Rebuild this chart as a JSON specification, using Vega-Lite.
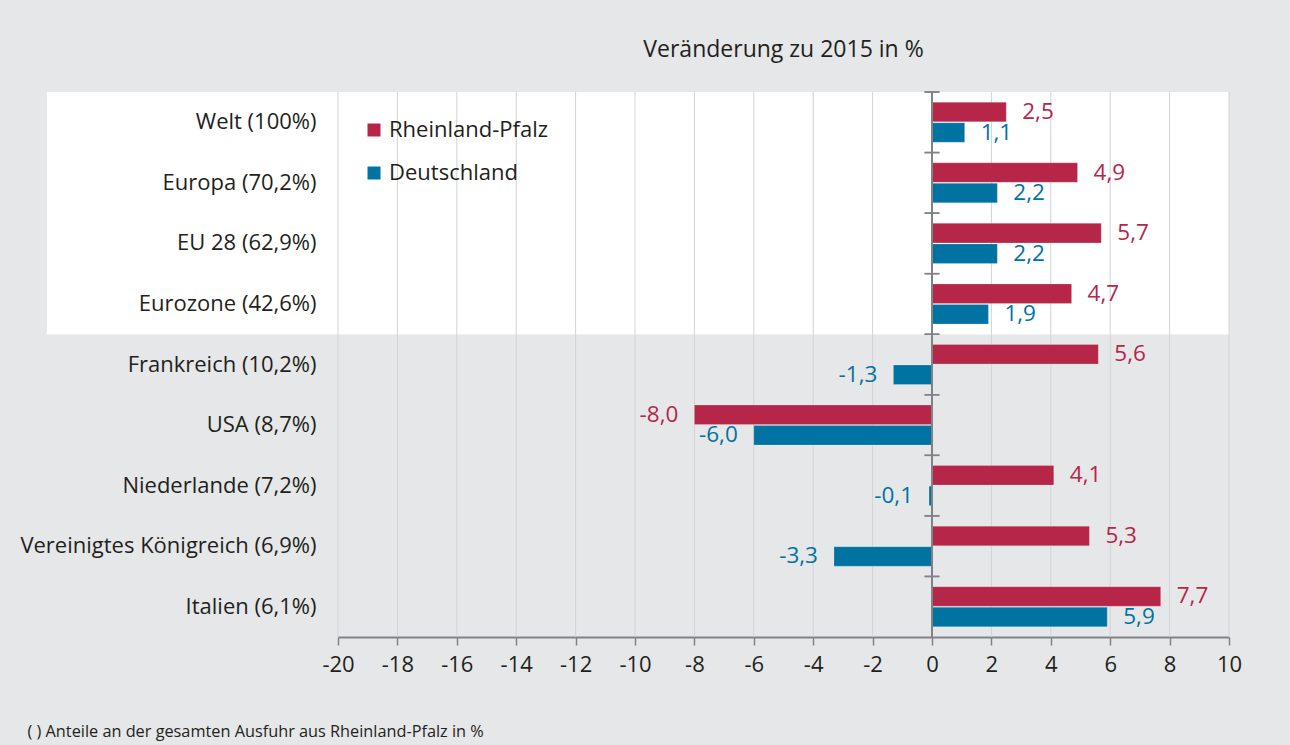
{
  "$schema": "https://vega.github.io/schema/vega-lite/v6.json",
  "width": 891,
  "height": 545,
  "autosize": {"type": "none"},
  "padding": {"left": 338, "top": 92, "right": 61, "bottom": 108},
  "background": "#e6e7e8",
  "config": {
    "font": "Open Sans",
    "view": {"stroke": null},
    "locale": {"number": {"decimal": ",", "thousands": ".", "grouping": [3], "currency": ["", " €"], "minus": "-"}}
  },
  "title": {
    "text": "Veränderung zu 2015 in %",
    "fontSize": 23,
    "fontWeight": "normal",
    "color": "#231f20",
    "anchor": "middle",
    "baseline": "alphabetic",
    "offset": 11
  },
  "data": {
    "values": [
      {"land": "Welt (100%)", "serie": "Rheinland-Pfalz", "wert": 2.5},
      {"land": "Welt (100%)", "serie": "Deutschland", "wert": 1.1},
      {"land": "Europa (70,2%)", "serie": "Rheinland-Pfalz", "wert": 4.9},
      {"land": "Europa (70,2%)", "serie": "Deutschland", "wert": 2.2},
      {"land": "EU 28 (62,9%)", "serie": "Rheinland-Pfalz", "wert": 5.7},
      {"land": "EU 28 (62,9%)", "serie": "Deutschland", "wert": 2.2},
      {"land": "Eurozone (42,6%)", "serie": "Rheinland-Pfalz", "wert": 4.7},
      {"land": "Eurozone (42,6%)", "serie": "Deutschland", "wert": 1.9},
      {"land": "Frankreich (10,2%)", "serie": "Rheinland-Pfalz", "wert": 5.6},
      {"land": "Frankreich (10,2%)", "serie": "Deutschland", "wert": -1.3},
      {"land": "USA (8,7%)", "serie": "Rheinland-Pfalz", "wert": -8.0},
      {"land": "USA (8,7%)", "serie": "Deutschland", "wert": -6.0},
      {"land": "Niederlande (7,2%)", "serie": "Rheinland-Pfalz", "wert": 4.1},
      {"land": "Niederlande (7,2%)", "serie": "Deutschland", "wert": -0.1},
      {"land": "Vereinigtes Königreich (6,9%)", "serie": "Rheinland-Pfalz", "wert": 5.3},
      {"land": "Vereinigtes Königreich (6,9%)", "serie": "Deutschland", "wert": -3.3},
      {"land": "Italien (6,1%)", "serie": "Rheinland-Pfalz", "wert": 7.7},
      {"land": "Italien (6,1%)", "serie": "Deutschland", "wert": 5.9}
    ]
  },
  "encoding": {
    "y": {
      "field": "land",
      "type": "nominal",
      "sort": null,
      "scale": {"paddingInner": 0, "paddingOuter": 0},
      "axis": {
        "title": null,
        "domain": false,
        "ticks": false,
        "labelFontSize": 22,
        "labelColor": "#231f20",
        "labelPadding": 22,
        "labelLimit": 400,
        "zindex": 1
      }
    }
  },
  "layer": [
    {
      "transform": [{"filter": {"field": "land", "oneOf": ["Welt (100%)", "Europa (70,2%)", "EU 28 (62,9%)", "Eurozone (42,6%)"]}}],
      "mark": {"type": "rect", "fill": "#ffffff"},
      "encoding": {
        "x": {"datum": -29.8, "type": "quantitative", "scale": {"domain": [-20, 10], "nice": false, "zero": false},
          "axis": {
            "values": [-20, -18, -16, -14, -12, -10, -8, -6, -4, -2, 0, 2, 4, 6, 8, 10],
            "grid": false,
            "labelFlush": false,
            "labelOverlap": false,
            "domainColor": "#808285",
            "domainWidth": 2,
            "tickColor": "#808285",
            "tickWidth": 1.5,
            "tickSize": 8,
            "labelFontSize": 22,
            "labelColor": "#231f20",
            "labelPadding": 9,
            "title": "( ) Anteile an der gesamten Ausfuhr aus Rheinland-Pfalz in %",
            "titleFontSize": 16.3,
            "titleFontWeight": "normal",
            "titleColor": "#231f20",
            "titleX": -311,
            "titleY": 99,
            "titleAlign": "left",
            "titleAnchor": "start",
            "titleBaseline": "alphabetic"
          }
        },
        "x2": {"datum": 10}
      }
    },
    {
      "data": {"values": [{"t": -20}, {"t": -18}, {"t": -16}, {"t": -14}, {"t": -12}, {"t": -10}, {"t": -8}, {"t": -6}, {"t": -4}, {"t": -2}, {"t": 2}, {"t": 4}, {"t": 6}, {"t": 8}, {"t": 10}]},
      "mark": {"type": "rule", "color": "#d1d3d4", "strokeWidth": 1},
      "encoding": {
        "y": null,
        "x": {"field": "t", "type": "quantitative", "scale": {"domain": [-20, 10], "nice": false, "zero": false}}
      }
    },
    {
      "mark": {"type": "bar", "stroke": "#ffffff", "strokeOpacity": 0.35, "strokeWidth": 0.6},
      "encoding": {
        "x": {"field": "wert", "type": "quantitative", "scale": {"domain": [-20, 10], "nice": false, "zero": false}},
        "yOffset": {"field": "serie", "type": "nominal", "sort": ["Rheinland-Pfalz", "Deutschland"], "scale": {"paddingInner": 0.05, "paddingOuter": 0.5}},
        "color": {
          "field": "serie",
          "type": "nominal",
          "scale": {"domain": ["Rheinland-Pfalz", "Deutschland"], "range": ["#b52649", "#0073a3"]},
          "legend": {
            "title": null,
            "orient": "none",
            "legendX": 25,
            "legendY": 27,
            "symbolType": "square",
            "symbolSize": 169,
            "symbolStrokeWidth": 0,
            "labelFontSize": 22,
            "labelColor": "#231f20",
            "labelOffset": 4,
            "labelLimit": 400,
            "rowPadding": 21
          }
        }
      }
    },
    {
      "mark": {"type": "rule", "color": "#808285", "strokeWidth": 2},
      "encoding": {"y": null, "x": {"datum": 0, "type": "quantitative", "scale": {"domain": [-20, 10], "nice": false, "zero": false}}}
    },
    {
      "mark": {"type": "rule", "color": "#808285", "strokeWidth": 1.5},
      "encoding": {
        "y": {"field": "land", "type": "nominal", "sort": null, "bandPosition": 0},
        "x": {"datum": -0.25, "type": "quantitative", "scale": {"domain": [-20, 10], "nice": false, "zero": false}},
        "x2": {"datum": 0.25}
      }
    },
    {
      "transform": [{"filter": "datum.wert >= 0"}],
      "mark": {"type": "text", "align": "left", "baseline": "middle", "dx": 16, "fontSize": 22.5},
      "encoding": {
        "x": {"field": "wert", "type": "quantitative", "scale": {"domain": [-20, 10], "nice": false, "zero": false}},
        "yOffset": {"field": "serie", "type": "nominal", "sort": ["Rheinland-Pfalz", "Deutschland"], "scale": {"paddingInner": 0.05, "paddingOuter": 0.5}},
        "text": {"field": "wert", "type": "quantitative", "format": ".1f"},
        "color": {"field": "serie", "type": "nominal", "scale": {"domain": ["Rheinland-Pfalz", "Deutschland"], "range": ["#b52649", "#0073a3"]}, "legend": null}
      }
    },
    {
      "transform": [{"filter": "datum.wert < 0"}],
      "mark": {"type": "text", "align": "right", "baseline": "middle", "dx": -16, "fontSize": 22.5},
      "encoding": {
        "x": {"field": "wert", "type": "quantitative", "scale": {"domain": [-20, 10], "nice": false, "zero": false}},
        "yOffset": {"field": "serie", "type": "nominal", "sort": ["Rheinland-Pfalz", "Deutschland"], "scale": {"paddingInner": 0.05, "paddingOuter": 0.5}},
        "text": {"field": "wert", "type": "quantitative", "format": ".1f"},
        "color": {"field": "serie", "type": "nominal", "scale": {"domain": ["Rheinland-Pfalz", "Deutschland"], "range": ["#b52649", "#0073a3"]}, "legend": null}
      }
    }
  ]
}
